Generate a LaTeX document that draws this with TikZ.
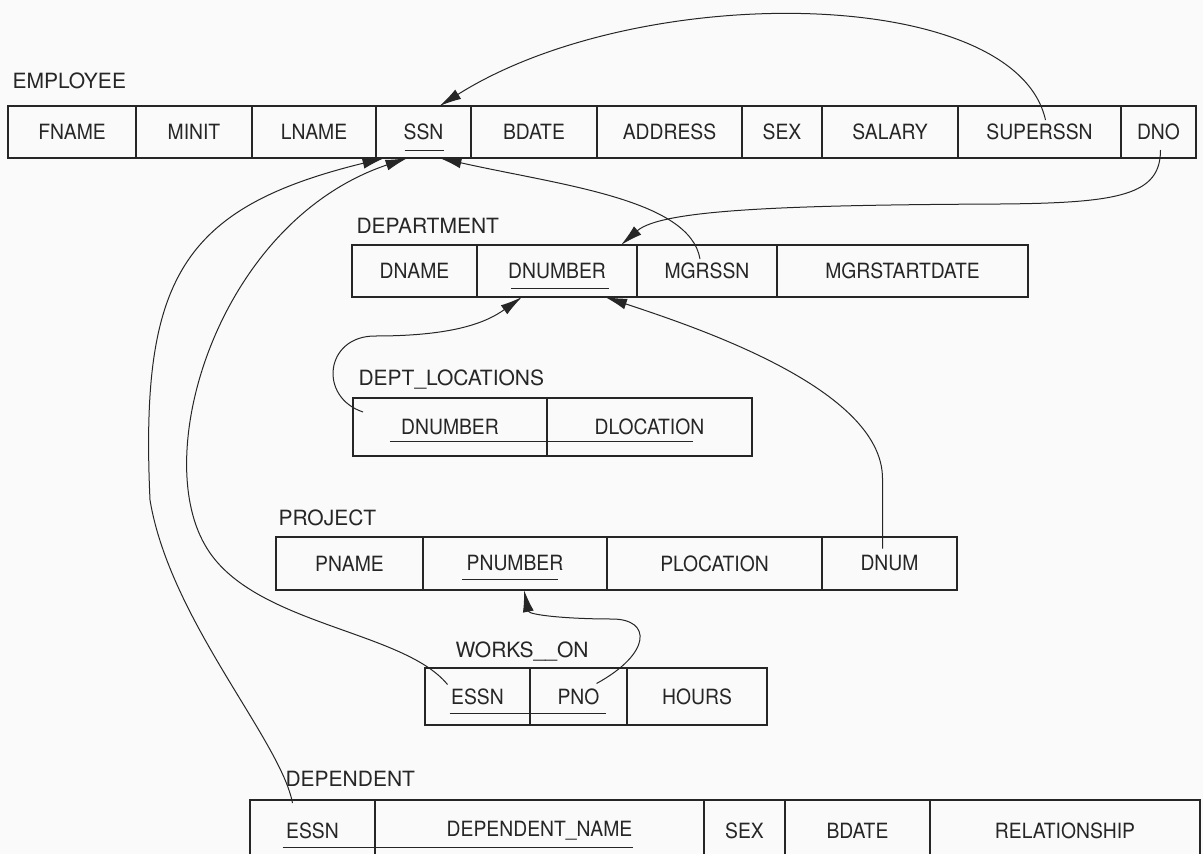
\documentclass[tikz,border=0pt]{standalone}
\usepackage{fontspec}
\setmainfont{TeX Gyre Heros}
\newfontfamily\cellfont{TeX Gyre Heros}[FakeStretch=0.92]
\newfontfamily\namefont{TeX Gyre Heros}
\usetikzlibrary{arrows.meta,positioning,calc}

\begin{document}
\begin{tikzpicture}[x=1pt, y=-1pt, line width=1.1pt, color=black!85,
  font=\cellfont\fontsize{21}{24}\selectfont]
\tikzstyle{cell}=[draw, inner sep=0pt, outer sep=0pt, minimum height=52pt, anchor=west]
\tikzstyle{tname}=[inner sep=0pt, anchor=base west, font=\namefont\fontsize{21}{24}\selectfont]
\tikzstyle{fk}=[-{Latex[length=22pt,width=11pt]}, line width=1pt]
\tikzstyle{key}=[line width=0.9pt]

\path[use as bounding box, fill=black!2] (0,0) rectangle (1203,854);

% EMPLOYEE
\node[cell, minimum width=128pt] (fname) at (8,132) {FNAME};
\node[cell, minimum width=116pt, right=0pt of fname] (minit) {MINIT};
\node[cell, minimum width=124pt, right=0pt of minit] (lname) {LNAME};
\node[cell, minimum width=95pt, right=0pt of lname] (ssn) {SSN};
\node[cell, minimum width=126pt, right=0pt of ssn] (bdate) {BDATE};
\node[cell, minimum width=145pt, right=0pt of bdate] (address) {ADDRESS};
\node[cell, minimum width=80pt, right=0pt of address] (sex) {SEX};
\node[cell, minimum width=136pt, right=0pt of sex] (salary) {SALARY};
\node[cell, minimum width=163pt, right=0pt of salary] (superssn) {SUPERSSN};
\node[cell, minimum width=75pt, right=0pt of superssn] (dno) {DNO};
\node[tname] (employee) at ([shift={(4,-18)}]fname.north west) {EMPLOYEE};

% DEPARTMENT
\node[cell, minimum width=125pt] (dname) at (352,271) {DNAME};
\node[cell, minimum width=160pt, right=0pt of dname] (dnumber) {DNUMBER};
\node[cell, minimum width=140pt, right=0pt of dnumber] (mgrssn) {MGRSSN};
\node[cell, minimum width=251pt, right=0pt of mgrssn] (mgrstart) {MGRSTARTDATE};
\node[tname] (department) at ([shift={(4,-12)}]dname.north west) {DEPARTMENT};

% DEPT_LOCATIONS
\node[cell, minimum height=58pt, minimum width=194pt] (dlnumber) at (353,427) {DNUMBER};
\node[cell, minimum height=58pt, minimum width=205pt, right=0pt of dlnumber] (dlocation) {DLOCATION};
\node[tname] (deptloc) at ([shift={(5,-13)}]dlnumber.north west) {DEPT\_LOCATIONS};

% PROJECT
\node[cell, minimum height=53pt, minimum width=147pt] (pname) at (276,563.5) {PNAME};
\node[cell, minimum height=53pt, minimum width=184pt, right=0pt of pname] (pnumber) {PNUMBER};
\node[cell, minimum height=53pt, minimum width=215pt, right=0pt of pnumber] (plocation) {PLOCATION};
\node[cell, minimum height=53pt, minimum width=135pt, right=0pt of plocation] (dnum) {DNUM};
\node[tname] (project) at ([shift={(2,-12)}]pname.north west) {PROJECT};

% WORKS_ON
\node[cell, minimum height=57pt, minimum width=105pt] (wessn) at (425,696.5) {ESSN};
\node[cell, minimum height=57pt, minimum width=97pt, right=0pt of wessn] (wpno) {PNO};
\node[cell, minimum height=57pt, minimum width=140pt, right=0pt of wpno] (hours) {HOURS};
\node[tname] (workson) at ([shift={(30,-11)}]wessn.north west) {WORKS\_\_ON};

% DEPENDENT
\node[cell, minimum height=62pt, minimum width=125pt] (dessn) at (250,831) {ESSN};
\node[cell, minimum height=62pt, minimum width=329pt, right=0pt of dessn] (depname) {DEPENDENT\_NAME};
\node[cell, minimum height=62pt, minimum width=81pt, right=0pt of depname] (dsex) {SEX};
\node[cell, minimum height=62pt, minimum width=145pt, right=0pt of dsex] (dbdate) {BDATE};
\node[cell, minimum height=62pt, minimum width=270pt, right=0pt of dbdate] (relation) {RELATIONSHIP};
\node[tname] (dependent) at ([shift={(35,-14)}]dessn.north west) {DEPENDENT};

% primary keys
\draw[key] ([shift={(-19,18)}]ssn.center) -- ([shift={(20,18)}]ssn.center);
\draw[key] ([shift={(-46,17)}]dnumber.center) -- ([shift={(52,17)}]dnumber.center);
\draw[key] ([shift={(-60,14)}]dlnumber.center) -- ([shift={(43,14)}]dlocation.center);
\draw[key] ([shift={(-53,16)}]pnumber.center) -- ([shift={(43,16)}]pnumber.center);
\draw[key] ([shift={(-28,17)}]wessn.center) -- ([shift={(27,17)}]wpno.center);
\draw[key] ([shift={(-30,16)}]dessn.center) -- ([shift={(93,16)}]depname.center);

% foreign keys
\draw[fk] ([shift={(6,-12)}]superssn.center) .. controls +(-30,-135) and +(200,-126) .. ([xshift=16]ssn.north);
\draw[fk] ([shift={(2,18)}]dno.center) .. controls +(0,45) and +(120,-1) .. (1000,204)
  .. controls +(-220,1) and +(40,-35) .. ([xshift=64]dnumber.north);
\draw[fk] ([shift={(-7,-12)}]mgrssn.center) .. controls +(-10,-60) and +(120,27) .. ([xshift=16]ssn.south);
\draw[fk] ([shift={(-87,-15)}]dlnumber.center) .. controls +(-45,-15) and +(-50,0) .. (375,336)
  .. controls +(80,0) and +(-35,25) .. ([xshift=-35]dnumber.south);
\draw[fk] ([shift={(-7,-15)}]dnum.center) -- ++(0,-70) .. controls +(0,-90) and +(90,30) .. ([xshift=48]dnumber.south);
\draw[fk] ([shift={(18,-13)}]wpno.center) .. controls +(55,-30) and +(40,0) .. (612,619)
  .. controls +(-45,0) and +(5,25) .. ([xshift=9]pnumber.south);
\draw[fk] ([shift={(-30,-12)}]wessn.center) .. controls +(-45,-55) and +(45,80) .. (205,545)
  .. controls +(-55,-95) and +(-187,63) .. ([xshift=-16]ssn.south);
\draw[fk] ([shift={(-20,-28)}]dessn.center) .. controls +(-12,-63) and +(20,120) .. (150,500)
  .. controls +(-10,-220) and +(-204,50) .. ([xshift=-39]ssn.south);
\end{tikzpicture}
\end{document}
